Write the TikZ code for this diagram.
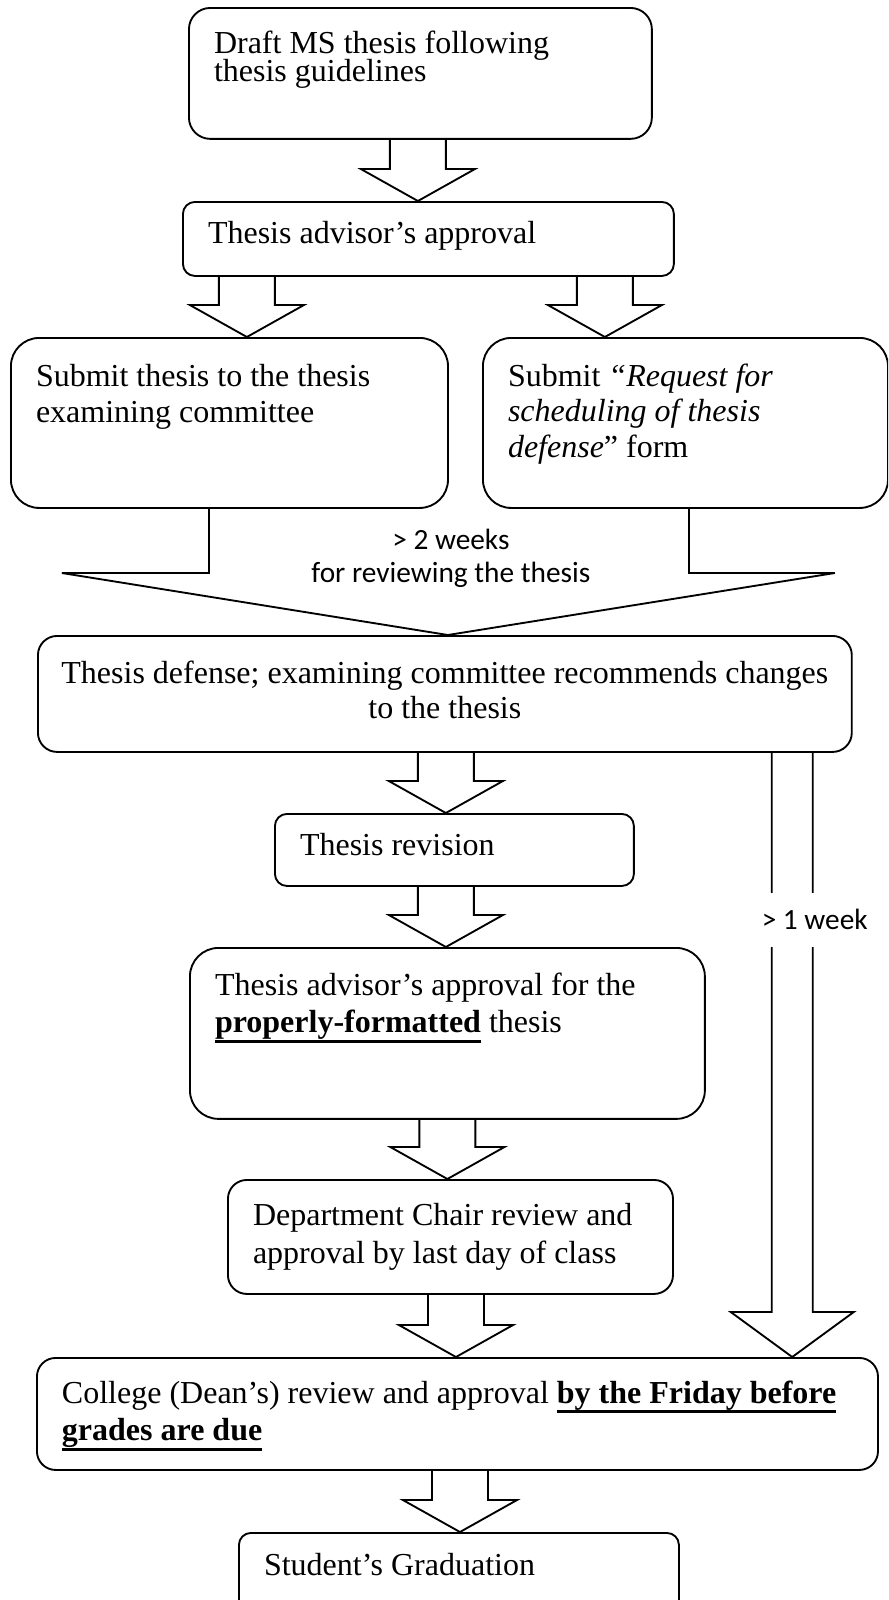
\documentclass[tikz,border=0pt]{standalone}
\usepackage{fontspec}
\setmainfont{Liberation Serif}
\newfontfamily\calibri{Carlito}
\usetikzlibrary{calc}

\newcommand{\ulbf}[1]{\leavevmode\sbox0{\bfseries #1}\rlap{\rule[-3.8pt]{\wd0}{1.1pt}}\usebox0}

\tikzset{
  stage/.style={draw, anchor=north west, inner xsep=9.4pt, inner ysep=0pt,
    align=flush left, font=\fontsize{12}{13.8}\selectfont},
  fat/.style={to path={let \p1=(\tikztostart), \p2=(\tikztotarget) in
    (\x1-10.5pt,\y1) -- (\x1-10.5pt,\y2+12pt) -- (\x1-21.4pt,\y2+12pt) -- (\x1,\y2)
    -- (\x1+21.4pt,\y2+12pt) -- (\x1+10.5pt,\y2+12pt) -- (\x1+10.5pt,\y1)}},
  longfat/.style={to path={let \p1=(\tikztostart), \p2=(\tikztotarget) in
    (\x1-7.7pt,\y1) -- (\x1-7.7pt,\y2+16.9pt) -- (\x1-23.1pt,\y2+16.9pt) -- (\x1,\y2)
    -- (\x1+23.1pt,\y2+16.9pt) -- (\x1+7.7pt,\y2+16.9pt) -- (\x1+7.7pt,\y1)}},
  note/.style={font=\calibri\fontsize{11}{12.4}\selectfont, align=center}
}

\begin{document}
\begin{tikzpicture}[x=0.375pt, y=-0.375pt, line width=0.7pt]
    \useasboundingbox (0,0) rectangle (888,1600);
    \clip (0,0) rectangle (888,1600);

    \node[stage, rounded corners=8pt, text width=154.8pt, text height=17.2pt, text depth=31.9pt,
          font=\fontsize{12}{10.5}\selectfont, execute at begin node={\lineskiplimit=-5pt}]
          (draft) at (188,7) {Draft MS thesis following\\thesis guidelines};
    \node[stage, rounded corners=4.5pt, text width=165.3pt, text height=15.4pt, text depth=12.35pt]
          (adv) at (182,201) {Thesis advisor's approval};
    \node[stage, rounded corners=10.6pt, text width=145.1pt, text height=18.2pt, text depth=45.55pt,
          font=\fontsize{12}{13.5}\selectfont]
          (submit) at (10,337) {Submit thesis to the thesis\\examining committee};
    \node[stage, rounded corners=10.6pt, text width=133.1pt, text height=18.2pt, text depth=45.55pt,
          font=\fontsize{12}{13.3}\selectfont]
          (request) at (482,337) {Submit {\itshape ``Request for}\\{\itshape scheduling of thesis}\\{\itshape defense}'' form};
    \node[stage, rounded corners=7.2pt, text width=300pt, inner xsep=2.6pt, text height=18pt, text depth=25.5pt,
          align=flush center, font=\fontsize{12}{13.1}\selectfont]
          (defense) at (37,635) {\mbox{Thesis defense; examining committee recommends changes}\\to the thesis};
    \node[stage, rounded corners=4.5pt, text width=115.8pt, text height=15.75pt, text depth=11.25pt]
          (revision) at (274,813) {Thesis revision};
    \node[stage, rounded corners=10.7pt, text width=174.3pt, text height=18pt, text depth=46.1pt]
          (formatok) at (189,947) {Thesis advisor's approval for the\\\ulbf{properly-formatted} thesis};
    \node[stage, rounded corners=7.1pt, text width=148.1pt, text height=17.25pt, text depth=25.5pt,
          font=\fontsize{12}{14.2}\selectfont]
          (chair) at (227,1179) {Department Chair review and\\approval by last day of class};
    \node[stage, rounded corners=7pt, text width=296.6pt, text height=16.9pt, text depth=25.1pt,
          font=\fontsize{12}{14.2}\selectfont]
          (college) at (36,1357) {\mbox{College (Dean's) review and approval \ulbf{by the Friday before}}\\\ulbf{grades are due}};
    \node[stage, rounded corners=4.5pt, text width=146.2pt, text height=16.1pt, text depth=20pt]
          (grad) at (238,1532) {Student's Graduation};

    \draw ($(draft.south)+(-2.5,0)$)    to[fat] (adv.north);
    \draw ($(adv.south)+(-181.5,0)$)    to[fat] (submit.north);
    \draw ($(adv.south)+(176.5,0)$)     to[fat] (request.north);
    \draw ($(submit.south)+(-20.5,0)$) |- ($(defense.north)+(-383,-62)$)
          -- ($(defense.north)+(3,0)$) -- ($(defense.north)+(390,-62)$)
          -| ($(request.south)+(3.5,0)$);
    \draw ($(defense.south)+(1,0)$)     to[fat] (revision.north);
    \draw ($(revision.south)+(-8.5,0)$) to[fat] (formatok.north);
    \draw (formatok.south)              to[fat] (chair.north);
    \draw ($(chair.south)+(5.5,0)$)     to[fat] (college.north);
    \draw ($(college.south)+(2.5,0)$)   to[fat] (grad.north);
    \draw ($(defense.south east)+(-60.5,0)$) to[longfat] (college.north);

    \node[note] (review) at ($(defense.north)+(6,-77)$) {> 2 weeks\\for reviewing the thesis};
    \node[note, fill=white, inner xsep=1pt, inner ysep=6.2pt] (week)
          at ($(defense.south east)+(-38,167)$) {> 1 week};
  \end{tikzpicture}
\end{document}
